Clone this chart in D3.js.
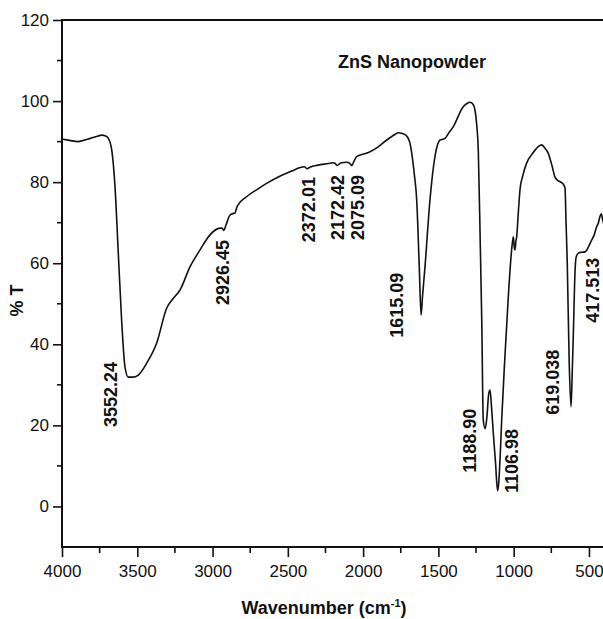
<!DOCTYPE html>
<html lang="en">
<head>
    <meta charset="UTF-8">
    <title>ZnS Nanopowder FTIR</title>
    <script src="https://d3js.org/d3.v7.min.js"></script>
    <style>
        body { margin: 0; background: #fff; }
        svg { display: block; font-family: "Liberation Sans", Arial, sans-serif; }
        .tick-label { font-size: 17px; fill: #111; }
        .peak { font-size: 18px; font-weight: bold; fill: #111; }
        .title { font-size: 18px; font-weight: bold; fill: #111; }
    </style>
</head>
<body>
<script>
    // spectrum (wavenumber cm-1, %T)
    const wavenumber = [4000, 3950, 3894, 3830, 3760, 3736, 3710, 3692, 3670, 3648, 3626, 3604, 3582, 3560, 3530,
        3493, 3438, 3371, 3305, 3261, 3216, 3150, 3083, 3017, 2960, 2937, 2926, 2910, 2884, 2860, 2851, 2836,
        2774, 2700, 2641, 2550, 2470, 2419, 2390, 2372, 2353, 2300, 2230, 2200, 2185, 2172, 2150, 2109, 2090,
        2076, 2060, 2043, 1990, 1954, 1900, 1843, 1800, 1766, 1740, 1711, 1690, 1677, 1660, 1644, 1627, 1615,
        1605, 1589, 1556, 1523, 1489, 1470, 1456, 1430, 1401, 1335, 1310, 1290, 1270, 1257, 1245, 1235, 1222,
        1212, 1202, 1189, 1178, 1165, 1157, 1148, 1135, 1120, 1107, 1100, 1090, 1080, 1058, 1036, 1009, 1002,
        996, 991, 985, 980, 970, 958, 940, 914, 880, 858, 835, 814, 795, 770, 745, 726, 710, 692, 670, 659, 652,
        644, 631, 619, 611, 603, 592, 585, 570, 550, 526, 500, 482, 465, 449, 437, 427, 418, 409, 400];
    const transmittance = [90.6, 90.3, 90.0, 90.6, 91.4, 91.6, 91.4, 90.8, 88.0, 78.9, 62.4, 46.0, 34.5, 31.9, 31.9,
        32.4, 35.3, 40.3, 48.9, 51.3, 53.4, 59.1, 63.3, 67.0, 68.6, 68.7, 68.1, 69.5, 71.9, 72.3, 72.4, 74.1,
        76.4, 78.3, 79.7, 81.5, 82.8, 83.6, 83.8, 83.3, 83.7, 84.2, 84.6, 84.8, 84.6, 84.1, 84.7, 84.9, 84.7,
        84.1, 85.2, 86.3, 87.0, 87.5, 88.7, 90.4, 91.5, 92.2, 92.0, 91.4, 89.8, 87.1, 82.0, 75.6, 59.1, 47.2,
        52.0, 59.1, 75.6, 86.3, 90.4, 90.6, 90.8, 92.2, 93.7, 98.6, 99.4, 99.7, 99.2, 97.8, 94.0, 87.9, 65.0,
        46.0, 21.3, 19.2, 22.0, 28.0, 28.7, 25.0, 18.0, 10.5, 3.9, 5.5, 12.0, 21.0, 37.0, 51.5, 64.9, 66.5,
        64.0, 63.3, 65.5, 66.5, 72.0, 78.1, 81.5, 84.7, 86.8, 87.9, 88.8, 89.2, 88.5, 87.1, 84.0, 81.3, 80.5,
        80.1, 79.5, 78.5, 70.0, 60.0, 35.3, 24.6, 33.0, 43.5, 58.3, 61.5, 62.5, 62.7, 62.8, 64.3, 65.7, 67.0,
        69.0, 70.0, 71.5, 72.2, 70.7, 69.5];

    // peak labels: text, and where the label sits (wavenumber, %T at its lower end)
    const peakLabels = ["3552.24", "2926.45", "2372.01", "2172.42", "2075.09", "1615.09", "1188.90", "1106.98", "619.038", "417.513"];
    const labelWn = [3681, 2931, 2360, 2173, 2034, 1775, 1290, 1011, 745, 473];
    const labelT = [19.6, 49.7, 65.2, 65.7, 65.7, 41.6, 8.3, 3.3, 22.6, 45.3];

    const xMajor = [4000, 3500, 3000, 2500, 2000, 1500, 1000, 500];
    const xMinor = [3750, 3250, 2750, 2250, 1750, 1250, 750];
    const yMajor = [0, 20, 40, 60, 80, 100, 120];
    const yMinor = [110, 90, 70, 50, 30, 10];

    const W = 603, H = 619;
    const mLeft = 62, mRight = 604, mTop = 20, mBottom = 547;

    const svg = d3.select("body").append("svg")
        .attr("width", W)
        .attr("height", H);

    const x = d3.scaleLinear().domain([4000, 400]).range([mLeft, mRight]);
    const y = d3.scaleLinear().domain([-10, 120]).range([mBottom, mTop]);

    // x axis
    const gx = svg.append("g").attr("transform", `translate(0,${mBottom})`);
    gx.call(d3.axisBottom(x).tickValues(xMajor).tickSize(10).tickPadding(8).tickFormat(d3.format("d")))
        .call(g => g.select(".domain").remove());
    gx.call(g => g.selectAll(".minor").data(xMinor).join("line")
        .attr("class", "minor")
        .attr("x1", d => x(d)).attr("x2", d => x(d))
        .attr("y1", 0).attr("y2", 6));

    // y axis
    const gy = svg.append("g").attr("transform", `translate(${mLeft},0)`);
    gy.call(d3.axisLeft(y).tickValues(yMajor).tickSize(9).tickPadding(4).tickFormat(d3.format("d")))
        .call(g => g.select(".domain").remove());
    gy.call(g => g.selectAll(".minor").data(yMinor).join("line")
        .attr("class", "minor")
        .attr("x1", 0).attr("x2", -5)
        .attr("y1", d => y(d)).attr("y2", d => y(d)));

    svg.selectAll(".tick text").attr("class", "tick-label").attr("font-family", null).attr("font-size", null);
    svg.selectAll(".tick line, .minor").attr("stroke", "#111").attr("stroke-width", 1.6);

    // frame lines: left, bottom, top
    svg.append("path")
        .attr("d", `M${mRight},${mTop}H${mLeft}V${mBottom}H${mRight}`)
        .attr("fill", "none")
        .attr("stroke", "#111")
        .attr("stroke-width", 2);

    // spectrum
    const pts = wavenumber.map((w, i) => [w, transmittance[i]]);
    const line = d3.line()
        .x(d => x(d[0]))
        .y(d => y(d[1]))
        .curve(d3.curveMonotoneX);

    svg.append("path")
        .datum(pts)
        .attr("d", line)
        .attr("fill", "none")
        .attr("stroke", "#111")
        .attr("stroke-width", 1.6)
        .attr("stroke-linejoin", "round");

    // peak labels
    svg.selectAll(".peak").data(peakLabels).join("text")
        .attr("class", "peak")
        .attr("transform", (d, i) => `translate(${x(labelWn[i])},${y(labelT[i])}) rotate(-90)`)
        .attr("dy", "0.36em")
        .text(d => d);

    svg.append("text")
        .attr("class", "title")
        .attr("x", 338)
        .attr("y", 68)
        .text("ZnS Nanopowder");

    // axis titles
    const xt = svg.append("text")
        .attr("class", "title")
        .attr("x", 324)
        .attr("y", 614)
        .attr("text-anchor", "middle");
    xt.append("tspan").text("Wavenumber (cm");
    xt.append("tspan").attr("font-size", "11px").attr("dy", -7).text("-1");
    xt.append("tspan").attr("dy", 7).text(")");

    svg.append("text")
        .attr("class", "title")
        .attr("transform", `translate(23,${(mTop + mBottom) / 2 + 17}) rotate(-90)`)
        .attr("text-anchor", "middle")
        .text("% T");
</script>
</body>
</html>
